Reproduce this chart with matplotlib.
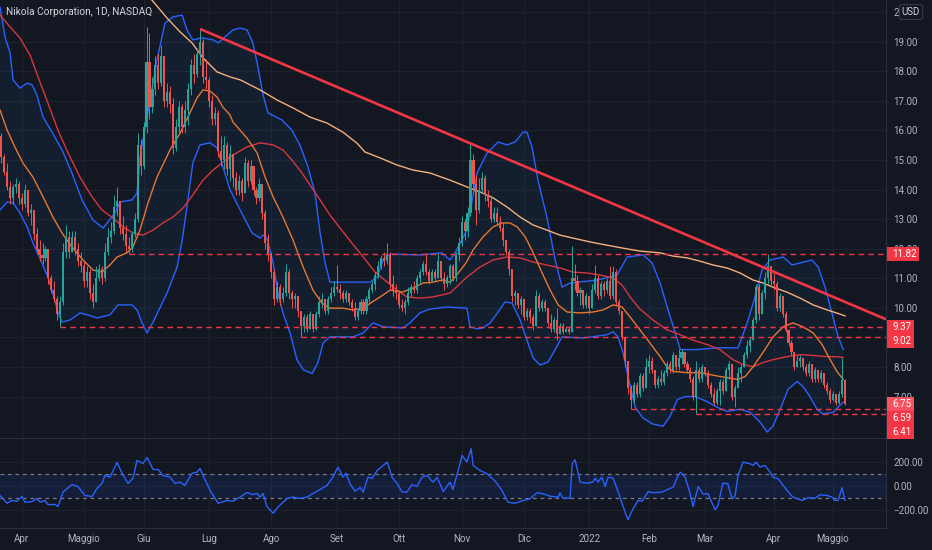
import matplotlib
matplotlib.use("Agg")
import matplotlib.pyplot as plt
import numpy as np
from matplotlib.patches import Rectangle

plt.rcParams['font.family'] = ['Roboto', 'DejaVu Sans']

# ---------------- data ----------------
title = "Nikola Corporation, 1D, NASDAQ"
first_index = -7          # trading-day index of first candle (0 = 1 Apr 2021)
first_open = 15.8

closes = [15.1, 14.6, 14.1, 13.7, 14.1, 14.2, 13.7,
          13.5, 14.0, 13.2, 13.3, 12.5, 12.0, 11.8, 11.7, 12.0, 11.0, 10.6, 10.3, 9.8, 10.2,
          11.9, 12.4, 11.9, 12.4, 12.0, 11.6, 11.4, 10.9, 11.2, 10.5, 10.2, 11.0, 11.3, 11.0,
          11.9, 12.4, 12.6, 13.4, 13.6, 12.7, 12.5, 12.1, 12.0, 12.5, 13.0, 15.5, 14.8, 16.1,
          18.3, 16.8, 17.4, 18.2, 17.6, 18.5, 17.0, 17.3, 16.9, 15.4, 16.1, 16.8, 16.1, 16.7,
          17.4, 18.2, 17.9, 18.6, 19.0, 17.8, 17.7, 17.0, 16.4, 16.6, 15.3, 15.0, 15.5, 14.7,
          15.2, 14.4, 14.0, 14.3, 13.9, 14.9, 14.3, 14.8, 14.0, 13.7, 14.2, 13.2, 12.2, 11.8,
          11.2, 10.3, 10.7, 10.3, 10.5, 11.2, 10.5, 10.3, 10.4, 9.9, 9.4, 9.7, 9.3, 9.8, 9.3,
          9.8, 10.2, 10.3, 9.9, 10.3, 10.5, 10.7, 10.65, 10.5, 10.3, 10.5, 10.2, 10.0, 9.7,
          9.9, 10.2, 9.9, 10.3, 10.6, 10.8, 11.1, 11.4, 11.7, 11.6, 11.8, 10.8, 10.6, 10.5,
          10.1, 10.0, 10.2, 10.5, 10.7, 10.6, 11.0, 11.2, 11.5, 11.2, 10.9, 11.2, 11.0, 11.6,
          11.0, 10.8, 11.0, 11.4, 11.0, 11.8, 12.2, 12.9, 12.6, 13.2, 15.0, 14.2, 13.3, 14.0,
          14.4, 13.8, 13.6, 13.0, 13.2, 12.9, 12.7, 12.3, 11.9, 11.3, 10.4, 10.5, 10.1, 10.3,
          9.7, 9.9, 9.7, 9.4, 10.4, 10.0, 10.2, 10.0, 9.5, 9.3, 9.6, 9.1, 9.4, 9.2, 9.3, 9.2,
          11.0, 10.9, 10.5, 10.6, 10.1, 10.4, 10.0, 10.6, 11.0, 10.4, 10.8, 10.6, 10.9, 10.4,
          11.2, 10.2, 9.9, 9.0, 8.2, 7.3, 6.9, 7.4, 7.1, 7.7, 7.3, 8.0, 8.2, 7.9, 7.4, 7.6,
          7.5, 7.8, 8.1, 7.9, 8.4, 8.0, 8.3, 8.5, 8.1, 7.9, 7.6, 7.0, 7.9, 7.6, 8.0, 7.8, 7.4,
          7.1, 6.8, 7.2, 7.5, 7.2, 7.9, 8.1, 7.0, 7.3, 7.8, 8.0, 8.4, 8.7, 8.9, 9.6, 10.7, 9.8,
          10.5, 11.0, 11.4, 10.9, 10.8, 10.0, 10.4, 9.8, 9.25, 8.8, 8.5, 8.0, 8.2, 8.3, 8.0,
          7.8, 8.1, 7.6, 7.9, 7.6, 7.8, 7.4, 7.2, 6.9, 7.1, 6.8, 7.1, 7.55, 6.75]

highs = [15.9, 15.2, 14.9, 14.3, 14.2, 14.4, 14.3,
         13.9, 14.2, 14.0, 13.5, 13.3, 12.7, 12.3, 12.2, 12.1, 12.0, 11.1, 10.9, 10.4, 10.4,
         12.2, 12.8, 12.6, 12.6, 12.6, 12.2, 11.9, 11.6, 11.4, 11.3, 10.8, 11.4, 11.5, 11.4,
         12.2, 12.7, 12.9, 13.8, 14.1, 13.6, 13.1, 12.8, 12.4, 12.6, 13.2, 15.9, 15.7, 16.3,
         19.5, 19.3, 17.8, 18.5, 18.6, 18.9, 18.5, 17.6, 17.5, 17.1, 16.4, 17.0, 16.9, 17.0,
         17.6, 18.4, 18.6, 18.8, 19.43, 19.1, 18.4, 17.8, 17.2, 16.8, 16.7, 15.8, 15.8, 15.6,
         15.5, 15.2, 14.6, 14.5, 14.4, 15.1, 15.0, 15.0, 14.8, 14.1, 14.4, 14.2, 13.3, 12.5,
         11.9, 11.3, 10.9, 10.8, 10.7, 11.5, 11.3, 10.6, 10.5, 10.4, 9.9, 9.8, 9.8, 9.9, 9.8,
         9.9, 10.4, 10.5, 10.3, 10.4, 10.7, 10.9, 11.45, 10.8, 10.6, 10.6, 10.5, 10.3, 10.2,
         10.0, 10.3, 10.3, 10.4, 10.7, 10.9, 11.2, 11.6, 11.8, 11.9, 12.2, 11.9, 11.1, 10.8,
         10.6, 10.3, 10.3, 10.7, 10.8, 10.9, 11.1, 11.3, 11.6, 11.85, 11.3, 11.3, 11.3, 11.85,
         11.6, 11.2, 11.1, 11.5, 11.5, 11.9, 12.4, 13.1, 13.0, 13.4, 15.56, 15.2, 14.5, 14.4,
         14.6, 14.5, 14.0, 13.8, 13.4, 13.4, 13.1, 12.9, 12.3, 12.0, 11.3, 10.6, 10.5, 10.4,
         10.3, 10.0, 10.0, 9.8, 10.6, 10.5, 10.3, 10.3, 10.0, 9.8, 9.7, 10.0, 9.5, 9.5, 9.4, 9.4,
         12.1, 11.5, 11.1, 10.7, 10.6, 10.5, 10.4, 10.8, 11.45, 11.1, 10.9, 10.9, 11.0, 11.4,
         11.4, 11.3, 10.3, 9.9, 9.0, 8.2, 7.4, 7.5, 7.5, 7.8, 7.8, 8.3, 8.4, 8.35, 7.9, 7.7,
         7.9, 7.9, 8.2, 8.2, 8.5, 8.4, 8.6, 8.6, 8.5, 8.2, 8.0, 7.7, 8.2, 8.0, 8.1, 8.0, 7.9,
         7.5, 7.3, 7.3, 7.6, 7.6, 8.0, 8.2, 8.1, 7.4, 8.0, 8.1, 8.5, 8.9, 9.0, 9.7, 10.8, 10.8,
         10.6, 11.2, 11.82, 11.4, 11.2, 10.9, 10.5, 10.4, 9.9, 9.3, 8.9, 8.5, 8.4, 8.4, 8.3,
         8.1, 8.2, 8.1, 8.0, 7.9, 7.9, 7.8, 7.5, 7.3, 7.2, 7.1, 7.2, 8.3, 7.6]

lows = [14.9, 14.5, 14.0, 13.5, 13.5, 13.9, 13.5,
        13.3, 13.4, 13.1, 12.8, 12.3, 11.9, 11.6, 11.5, 11.6, 10.8, 10.5, 10.2, 9.6, 9.37,
        10.1, 11.7, 11.7, 11.9, 11.8, 11.4, 11.2, 10.7, 10.7, 10.3, 10.0, 10.2, 10.9, 10.8,
        10.9, 11.8, 12.2, 12.5, 13.1, 12.5, 12.3, 11.9, 11.82, 11.9, 12.4, 12.9, 14.5, 14.7,
        15.9, 16.4, 16.6, 17.2, 17.4, 17.5, 16.8, 16.8, 16.6, 15.2, 15.3, 15.9, 15.9, 15.9,
        16.2, 17.2, 17.6, 17.8, 18.2, 17.6, 17.4, 16.8, 16.2, 16.2, 15.1, 14.8, 14.7, 14.5,
        14.3, 14.1, 13.8, 13.8, 13.6, 13.9, 14.1, 14.2, 13.8, 13.5, 13.6, 13.0, 12.0, 11.6,
        11.0, 10.1, 10.2, 10.1, 10.2, 10.4, 10.3, 10.0, 10.0, 9.7, 9.02, 9.2, 9.2, 9.3, 9.2,
        9.25, 9.7, 10.0, 9.8, 9.8, 10.2, 10.4, 10.55, 10.3, 10.2, 10.2, 10.1, 9.9, 9.6,
        9.6, 9.8, 9.8, 9.8, 10.2, 10.5, 10.6, 11.0, 11.3, 11.4, 11.5, 10.6, 10.4, 10.3,
        10.0, 9.9, 9.8, 10.1, 10.4, 10.5, 10.5, 10.8, 11.1, 11.1, 10.8, 10.9, 10.9, 11.0,
        10.9, 10.6, 10.7, 10.8, 10.9, 10.9, 11.6, 12.1, 12.3, 12.4, 13.1, 13.9, 12.8, 13.2,
        13.9, 13.6, 13.4, 12.9, 12.9, 12.8, 12.6, 12.1, 11.8, 11.1, 10.2, 10.1, 10.0, 9.8,
        9.6, 9.6, 9.5, 9.25, 9.4, 9.9, 9.9, 9.9, 9.4, 9.2, 9.2, 8.9, 9.1, 9.1, 9.2, 9.1,
        9.2, 10.6, 10.4, 10.1, 10.0, 10.0, 9.8, 10.0, 10.5, 10.3, 10.3, 10.4, 10.5, 10.3,
        10.3, 10.1, 9.8, 8.9, 8.0, 7.1, 6.59, 6.8, 7.0, 7.0, 7.2, 7.3, 7.8, 7.8, 7.3, 7.3,
        7.4, 7.4, 7.7, 7.8, 7.8, 7.9, 7.9, 8.1, 8.0, 7.8, 7.5, 6.9, 6.41, 7.5, 7.5, 7.7, 7.3,
        7.0, 6.7, 6.7, 6.7, 7.1, 7.2, 7.6, 6.9, 6.65, 7.3, 7.5, 8.0, 8.3, 8.5, 8.9, 9.5, 9.6,
        9.8, 10.3, 10.8, 10.7, 10.6, 9.9, 9.9, 9.7, 9.2, 8.7, 8.4, 7.9, 8.0, 8.0, 7.9,
        7.7, 7.7, 7.5, 7.5, 7.5, 7.5, 7.3, 7.1, 6.8, 6.85, 6.7, 6.75, 7.0, 6.7]

# Bollinger bands (20, 2): (trading-day index, price)
bb_upper_x = [-7.3, -5.6, -3.9, -2.9, -0.6, 1.8, 3.5, 5.1, 7.2, 10.2, 13.6, 16.9, 20.3, 24.0,
              27.4, 31.4, 33.1, 37.1, 38.8, 39.8, 42.2, 45.5, 48.2, 50.9, 54.0, 55.6, 57.6,
              60.7, 64.4, 66.1, 71.1, 73.5, 75.8, 77.8, 79.5, 81.2, 82.9, 87.6, 90.9, 93.6,
              96.3, 98.7, 100.4, 102.1, 103.7, 109.5, 117.2, 119.6, 121.6, 124.0, 134.0,
              141.4, 144.1, 145.8, 149.8, 153.2, 156.6, 160.3, 163.3, 166.0, 168.7, 170.0,
              171.7, 173.7, 176.7, 179.5, 181.8, 184.5, 193.6, 200.3, 203.7, 209.1, 212.1,
              214.8, 217.5, 219.9, 221.6, 227.3, 233.9, 241.0, 242.4, 244.4, 246.7, 249.1,
              251.8, 256.2, 259.2, 261.9, 265.9, 268.0, 270.3, 272.6, 274.7, 276.4]
bb_upper = [20.17, 19.16, 18.62, 17.71, 17.43, 17.60, 17.54, 17.20, 16.45, 15.94, 15.34, 14.56,
            13.65, 12.97, 12.70, 13.21, 13.58, 13.65, 13.88, 15.10, 16.45, 18.38, 19.63, 19.84,
            19.90, 19.40, 19.06, 19.13, 19.06, 18.96, 19.40, 19.46, 19.40, 18.96, 18.14, 17.20,
            16.59, 16.35, 16.01, 15.51, 14.77, 13.88, 12.53, 11.52, 10.87, 10.87, 10.87, 11.04,
            11.62, 11.82, 11.79, 11.86, 11.62, 11.86, 12.63, 14.56, 15.24, 15.61, 15.51, 15.61,
            15.94, 15.94, 15.44, 14.32, 13.07, 11.62, 10.70, 10.84, 10.94, 11.11, 11.72, 11.79,
            11.52, 10.84, 9.93, 9.15, 8.59, 8.59, 8.65, 8.65, 9.02, 9.59, 10.37, 11.28, 11.62,
            11.72, 11.45, 11.52, 11.62, 11.38, 10.70, 9.83, 9.02, 8.59]
bb_lower_x = [-7.3, -4.9, -2.9, -0.6, 1.8, 3.8, 6.8, 8.8, 10.5, 12.2, 13.6, 16.3, 19.6, 22.3,
              25.3, 29.7, 32.4, 37.1, 38.8, 40.5, 42.2, 44.2, 48.9, 52.3, 54.0, 55.6, 57.6,
              60.0, 63.4, 65.7, 67.7, 70.1, 73.5, 77.5, 80.2, 81.2, 82.5, 84.6, 86.2, 87.9,
              90.3, 92.6, 94.7, 97.7, 99.7, 101.4, 103.7, 111.5, 114.9, 118.2, 121.6, 128.3,
              130.6, 134.0, 137.4, 143.1, 149.8, 150.8, 153.2, 155.2, 157.6, 160.3, 162.6,
              165.0, 167.7, 170.0, 172.1, 174.4, 177.1, 179.5, 181.8, 188.9, 196.9, 199.0,
              200.6, 202.3, 204.0, 206.4, 209.1, 212.4, 215.8, 218.2, 220.6, 223.2, 226.6,
              230.6, 233.9, 237.3, 241.7, 245.1, 248.4, 250.8, 252.8, 255.2, 257.8, 260.9,
              262.9, 265.2, 267.6, 269.6, 273.0, 274.7, 276.4]
bb_lower = [13.31, 13.58, 13.55, 13.21, 12.74, 12.19, 11.52, 11.04, 10.50, 9.83, 9.52, 9.59,
            9.83, 9.76, 9.66, 9.76, 10.10, 10.10, 9.93, 9.49, 9.15, 9.52, 10.50, 11.38, 12.29,
            13.41, 14.90, 15.51, 15.58, 15.41, 14.77, 13.99, 13.31, 12.53, 12.36, 12.46, 12.36,
            11.52, 10.50, 9.83, 9.15, 8.25, 7.91, 7.78, 8.15, 8.81, 9.02, 9.02, 9.15, 9.49,
            9.36, 9.32, 9.49, 9.83, 9.96, 10.03, 9.99, 9.36, 9.29, 9.32, 9.49, 9.86, 10.20,
            10.16, 9.59, 8.91, 8.30, 8.07, 8.17, 8.59, 9.02, 8.98, 9.09, 9.19, 9.02, 8.49,
            7.68, 6.64, 6.27, 6.07, 6.00, 6.34, 6.90, 7.00, 7.00, 6.83, 6.64, 6.50, 6.57,
            6.47, 6.14, 5.80, 6.00, 6.57, 7.24, 7.51, 7.34, 7.00, 6.57, 6.41, 6.47, 6.64, 6.81]

# Moving averages
ma20_x = [-7.3, -4.9, -2.3, 0.4, 3.8, 7.2, 10.5, 13.6, 16.9, 20.6, 24.0, 27.0, 29.7, 32.1,
          35.4, 37.4, 39.8, 42.5, 45.5, 49.9, 53.3, 55.9, 59.0, 61.0, 63.4, 65.7, 67.7, 70.1,
          71.1, 75.8, 79.2, 81.9, 84.6, 87.9, 91.3, 94.7, 98.0, 101.0, 103.7, 108.1, 111.5,
          114.9, 117.9, 120.6, 124.0, 128.0, 131.7, 135.0, 138.4, 141.4, 144.1, 145.8, 149.5,
          151.9, 155.2, 158.6, 161.6, 164.3, 166.7, 169.4, 172.1, 175.1, 177.8, 180.5, 183.5,
          187.9, 192.2, 195.6, 199.0, 202.0, 204.7, 208.0, 211.4, 214.8, 217.1, 219.2, 223.9,
          228.2, 234.9, 241.0, 243.4, 246.1, 249.4, 252.8, 256.2, 259.5, 262.9, 266.3, 269.3,
          272.0, 274.3, 276.4]
ma20 = [16.69, 16.01, 15.44, 14.90, 14.42, 13.75, 13.07, 12.53, 12.06, 11.62, 11.28, 11.21,
        11.45, 11.72, 11.86, 12.06, 12.63, 13.55, 14.42, 15.34, 15.91, 16.45, 17.10, 17.37,
        17.33, 17.13, 16.79, 16.52, 16.28, 15.74, 15.24, 14.42, 13.75, 13.07, 12.29, 11.38,
        10.60, 10.16, 9.99, 9.99, 9.93, 9.99, 10.20, 10.37, 10.60, 10.53, 10.67, 10.84, 10.87,
        10.94, 10.87, 11.04, 11.52, 11.96, 12.40, 12.74, 12.87, 12.87, 12.74, 12.40, 11.86,
        11.18, 10.60, 10.10, 9.86, 9.83, 9.86, 9.93, 10.10, 10.03, 9.69, 9.26, 8.81, 8.35,
        8.01, 7.85, 7.81, 7.81, 7.68, 7.58, 7.68, 8.01, 8.49, 9.02, 9.36, 9.49, 9.36, 9.15,
        8.76, 8.25, 7.85, 7.58]
ma50_x = [-7.3, -3.9, -0.6, 2.8, 5.5, 8.8, 12.2, 15.6, 19.6, 23.7, 27.0, 30.7, 34.1, 37.4,
          40.8, 44.2, 47.5, 50.9, 54.3, 57.6, 61.0, 64.4, 67.7, 71.1, 75.8, 80.2, 84.6, 87.9,
          90.9, 94.3, 97.7, 100.4, 103.7, 107.1, 111.1, 114.9, 118.9, 123.0, 126.3, 129.6,
          134.0, 138.4, 144.1, 149.8, 154.2, 158.6, 163.3, 167.7, 172.1, 176.7, 181.1, 185.5,
          190.2, 194.6, 199.0, 202.0, 204.7, 208.0, 212.4, 217.1, 221.6, 225.9, 230.6, 234.9,
          239.3, 242.7, 246.1, 249.4, 252.8, 257.5, 261.9, 266.3, 271.0, 274.3, 276.4]
ma50 = [19.90, 19.50, 19.13, 18.55, 17.81, 16.93, 16.01, 15.24, 14.42, 13.75, 13.31, 13.04,
        12.74, 12.53, 12.46, 12.63, 12.87, 13.07, 13.38, 13.82, 14.32, 14.66, 14.93, 15.17,
        15.44, 15.58, 15.51, 15.34, 15.00, 14.56, 14.05, 13.65, 13.14, 12.70, 12.19, 11.72,
        11.21, 10.87, 10.60, 10.37, 10.33, 10.37, 10.50, 11.04, 11.38, 11.62, 11.72, 11.69,
        11.55, 11.45, 11.35, 11.21, 11.18, 11.11, 11.01, 10.77, 10.37, 9.96, 9.59, 9.26,
        9.09, 8.91, 8.76, 8.59, 8.25, 8.08, 8.01, 8.15, 8.25, 8.35, 8.42, 8.39, 8.35, 8.35, 8.32]
ma200_x = [43.8, 48.9, 53.3, 57.3, 61.0, 65.7, 70.1, 73.5, 80.2, 85.9, 91.3, 97.0, 102.7,
           108.1, 112.8, 115.5, 120.6, 126.3, 131.7, 137.4, 144.1, 149.8, 154.2, 158.6, 163.3,
           167.7, 172.1, 176.7, 181.1, 185.5, 191.2, 196.9, 202.3, 208.0, 214.8, 219.2, 223.9,
           228.2, 232.6, 237.3, 241.7, 246.1, 249.4, 252.8, 257.5, 261.9, 266.3, 271.0, 275.3,
           277.0]
ma200 = [20.41, 19.80, 19.33, 18.96, 18.45, 17.98, 17.81, 17.71, 17.37, 17.03, 16.76, 16.45,
         16.25, 15.94, 15.57, 15.27, 15.07, 14.83, 14.66, 14.56, 14.32, 14.09, 13.92, 13.72,
         13.41, 13.07, 12.80, 12.63, 12.46, 12.36, 12.23, 12.12, 12.02, 11.92, 11.86, 11.75,
         11.69, 11.58, 11.45, 11.35, 11.18, 10.94, 10.84, 10.70, 10.53, 10.33, 10.10, 9.93,
         9.79, 9.73]

# CCI
cci_x = [-7.3, -4.9, -3.3, -1.6, 0.1, 1.1, 3.5, 5.1, 6.2, 7.8, 8.8, 11.2, 12.2, 13.9, 16.9,
         18.9, 21.3, 23.7, 25.3, 27.0, 28.0, 29.7, 32.1, 33.8, 35.8, 37.4, 38.8, 40.8, 42.2,
         44.2, 45.9, 47.5, 49.9, 51.6, 53.3, 54.9, 57.3, 59.0, 60.0, 61.0, 63.4, 66.1, 69.1,
         71.1, 73.5, 75.8, 77.5, 79.2, 80.2, 81.2, 82.5, 84.6, 86.2, 89.3, 91.3, 93.6, 96.0,
         98.0, 100.4, 102.7, 104.7, 106.4, 108.1, 109.1, 110.4, 112.1, 113.9, 114.9, 116.5,
         117.9, 119.6, 123.0, 124.6, 126.3, 128.0, 129.6, 131.3, 133.0, 134.7, 136.4, 138.4,
         139.7, 140.7, 141.8, 144.1, 145.1, 148.2, 149.8, 151.2, 151.9, 154.2, 156.6, 159.3,
         161.6, 163.6, 166.0, 168.7, 171.0, 173.4, 175.4, 177.8, 180.5, 181.1, 182.1, 184.5,
         185.2, 186.2, 187.9, 190.2, 192.2, 192.9, 193.9, 195.2, 196.3, 197.3, 199.0, 201.3,
         203.0, 204.0, 205.7, 207.4, 208.7, 210.8, 212.4, 215.4, 217.1, 219.2, 220.6, 221.6,
         223.2, 224.6, 225.9, 227.6, 229.2, 230.9, 233.3, 234.3, 235.9, 237.6, 239.0, 240.0,
         241.0, 242.7, 245.1, 246.1, 247.1, 248.4, 250.1, 251.8, 252.8, 254.5, 257.5, 259.5,
         262.6, 264.6, 266.9, 268.6, 271.0, 272.6, 273.6, 274.7, 276.0, 277.0]
cci = [-78, -143, -120, -126, -87, -134, -129, -103, -134, -120, -154, -154, -171, -50, 14,
       -3, -78, -87, -19, 23, 90, 76, 199, 107, 23, 65, 216, 191, 241, 140, 140, 90, 76, 23,
       34, 6, 107, 118, 149, 90, -36, -143, -120, -126, -92, -53, -70, -61, -92, -61, -171,
       -227, -176, -103, -92, -103, -92, -61, -28, 6, 76, 160, 76, 109, 23, -42, -11, -50, 76,
       65, 132, 202, 76, 23, -50, -50, 14, -3, 76, 90, 34, 73, 23, -45, 34, -28, 258, 202, 314,
       174, 132, 104, 42, -36, -134, -143, -120, -106, -55, -64, -84, -92, -55, -101, -101,
       188, 222, 34, 25, 34, 67, 34, 76, -3, 76, 67, -92, -218, -282, -190, -120, -126, -45,
       -55, -50, -30, -8, 76, 118, 76, -36, -171, -3, -64, -64, -198, -162, 25, 20, -106, -84,
       90, 202, 188, 174, 202, 160, 174, 118, 76, 62, -36, -92, -120, -97, -101, -72, -78, -92,
       -120, -120, -13, -120]

# horizontal support levels: (price, start index)
level_prices = [11.82, 9.37, 9.02, 6.59, 6.41]
level_starts = [36, 13, 94, 205, 227]
last_price = 6.75
# trendline anchors (index, price)
trend_x = [60, 151]
trend_y = [19.43, 15.56]

month_idx = [0, 21, 41, 63, 84, 106, 127, 148, 169, 191, 211, 230, 253, 273]
month_lbl = ["Apr", "Maggio", "Giu", "Lug", "Ago", "Set", "Ott", "Nov", "Dic", "2022",
             "Feb", "Mar", "Apr", "Maggio"]
price_ticks = list(range(7, 21))
cci_ticks = [200, 0, -200]
cci_tick_lbl = ["200.00", "0.00", "\u2212200.00"]

# ---------------- style ----------------
BG = "#131722"
GRID = "#1e222d"
SEP = "#2a2e39"
TXT = "#b2b5be"
GREEN = "#26a69a"
RED = "#ef5350"
LVL = "#f23645"
BLUE = "#2962ff"

W, H = 932, 550
fig = plt.figure(figsize=(W / 100, H / 100), dpi=100)
fig.patch.set_facecolor(BG)


def px_axes(x0, y0, x1, y1):
    return fig.add_axes([x0 / W, 1 - y1 / H, (x1 - x0) / W, (y1 - y0) / H])


XL = (-7.3, 290.8)
YL = (5.60, 20.41)
CL = (-351, 396)
ax = px_axes(0, 0, 886, 438)
ax2 = px_axes(0, 439, 886, 528)

for a in (ax, ax2):
    a.set_facecolor(BG)
    a.set_xlim(*XL)
    for s in ("top", "left"):
        a.spines[s].set_visible(False)
    a.spines["right"].set_color(SEP)
    a.spines["bottom"].set_color(SEP)
    a.yaxis.tick_right()
    a.tick_params(axis="both", length=0, colors=TXT, labelsize=7)
    a.tick_params(axis="y", pad=5.5)
    a.set_xticks(month_idx)
    a.grid(True, color=GRID, linewidth=0.9, zorder=0)
    a.set_axisbelow(True)

ax.set_ylim(*YL)
ax.set_yticks(price_ticks)
ax.set_yticklabels([f"{v:.2f}" for v in price_ticks])
ax.set_xticklabels([])

# Bollinger band fill + lines
ux, uy = np.array(bb_upper_x), np.array(bb_upper)
lx, ly = np.array(bb_lower_x), np.array(bb_lower)
ax.fill(np.r_[ux, lx[::-1]], np.r_[uy, ly[::-1]], color="#2196f3", alpha=0.06, lw=0, zorder=1)
ax.plot(ux, uy, color=BLUE, lw=1.0, zorder=3)
ax.plot(lx, ly, color=BLUE, lw=1.0, zorder=3)

ax.plot(ma200_x, ma200, color="#f4b07c", lw=1.0, zorder=3)
ax.plot(ma50_x, ma50, color="#d9363e", lw=1.0, zorder=3)
ax.plot(ma20_x, ma20, color="#e8782e", lw=1.0, zorder=3)

# candles
c = np.array(closes)
o = np.r_[first_open, c[:-1]]
hi = np.array(highs)
lo = np.array(lows)
idx = np.arange(first_index, first_index + len(c))
up = c >= o
cols = np.where(up, GREEN, RED)
ax.vlines(idx, lo, hi, colors=cols, linewidth=0.7, zorder=4)
body_h = np.maximum(np.abs(c - o), 0.03)
ax.bar(idx, body_h, bottom=np.minimum(o, c), width=0.7, color=cols, linewidth=0, zorder=5)

# levels
for p, s in zip(level_prices, level_starts):
    ax.plot([s, XL[1]], [p, p], color=LVL, lw=1.0, ls=(0, (4, 3)), zorder=6)

# trendline
slope = (trend_y[1] - trend_y[0]) / (trend_x[1] - trend_x[0])
tx = np.array([trend_x[0], XL[1]])
ty = trend_y[0] + slope * (tx - trend_x[0])
ax.plot(tx, ty, color=LVL, lw=1.9, zorder=7, solid_capstyle="butt")

# CCI pane
ax2.set_ylim(*CL)
ax2.set_yticks(cci_ticks)
ax2.set_yticklabels(cci_tick_lbl)
ax2.set_xticklabels(month_lbl)
ax2.tick_params(axis="x", pad=4)
ax2.axhspan(-100, 100, color="#2962ff", alpha=0.10, lw=0, zorder=1)
for v in (100, -100):
    ax2.axhline(v, color="#787b86", lw=0.9, ls=(0, (3, 3)), zorder=2)
ax2.plot(cci_x, cci, color=BLUE, lw=1.0, zorder=3)

# title
fig.text(6 / W, 1 - 12 / H, title, color="#d1d4dc", fontsize=7.3, va="center", ha="left")

# USD badge
fig.text(911 / W, 1 - 12 / H, "USD", color="#d1d4dc", fontsize=7, va="center", ha="center",
         bbox=dict(boxstyle="round,pad=0.25", fc=BG, ec="#363a45", lw=0.8), zorder=5)

# price labels on the scale (stacked to avoid overlap)
def price_to_px(p):
    return 438 * (YL[1] - p) / (YL[1] - YL[0])

labels = [(p, LVL) for p in level_prices] + [(last_price, "#f7525f")]
labels.sort(key=lambda t: -t[0])
prev = -100
BOX_H = 14
for p, col in labels:
    y = max(price_to_px(p), prev + BOX_H)
    prev = y
    txt = f"{p:.2f}"
    wbox = 8 + 4.8 * len(txt)
    fig.add_artist(Rectangle((887 / W, 1 - (y + BOX_H / 2) / H), wbox / W, BOX_H / H,
                             transform=fig.transFigure, facecolor=col, edgecolor="none",
                             zorder=3))
    fig.text(892.5 / W, 1 - y / H, txt, color="white", fontsize=7, va="center", ha="left",
             zorder=4)

fig.savefig("out.png", dpi=100, facecolor=BG)
